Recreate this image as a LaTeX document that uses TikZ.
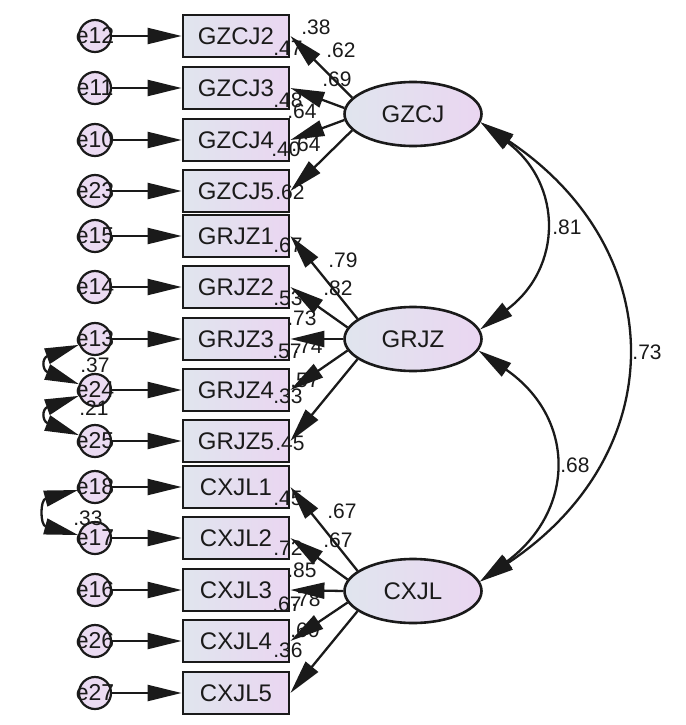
\documentclass[tikz,border=0pt]{standalone}
\usepackage{fontspec}
\setmainfont{Liberation Sans}
\usetikzlibrary{shapes.geometric,arrows.meta}
\definecolor{boxL}{HTML}{E0E5EE}
\definecolor{boxR}{HTML}{EAD6F1}
\definecolor{errC}{HTML}{EBDBF2}
\definecolor{ink}{HTML}{1A1A1A}
\begin{document}
\begin{tikzpicture}[x=1pt,y=-1pt,
  obs/.style={rectangle,draw=ink,line width=2.8pt,minimum width=106pt,minimum height=42pt,inner sep=0pt,left color=boxL,right color=boxR,font=\fontsize{24}{24}\selectfont,text=ink},
  lat/.style={ellipse,draw=ink,line width=2.6pt,minimum width=137pt,minimum height=64pt,inner sep=0pt,left color=boxL,right color=boxR,font=\fontsize{24}{24}\selectfont,text=ink},
  err/.style={circle,draw=ink,line width=2.2pt,minimum size=32pt,inner sep=0pt,fill=errC},
  etxt/.style={inner sep=0pt,font=\fontsize{23}{23}\selectfont,text=ink},
  arr/.style={draw=ink,line width=2.3pt,-{Triangle[length=34pt,width=16pt]}},
  cov/.style={draw=ink,line width=2.3pt,{Triangle[length=34pt,width=16pt]}-{Triangle[length=34pt,width=16pt]}},
  num/.style={inner sep=0pt,font=\fontsize{21}{21}\selectfont,text=ink},
]
\useasboundingbox (0,0) rectangle (685,725);
\foreach \y/\n/\e [count=\i] in {36/GZCJ2/e12, 88/GZCJ3/e11, 140/GZCJ4/e10, 191/GZCJ5/e23, 236/GRJZ1/e15, 287/GRJZ2/e14, 339/GRJZ3/e13, 390/GRJZ4/e24, 441/GRJZ5/e25, 487/CXJL1/e18, 538/CXJL2/e17, 590/CXJL3/e16, 641/CXJL4/e26, 693/CXJL5/e27}{
  \node[obs] (o\i) at (236,\y) {\n};
  \node[err] (e\i) at (95,\y) {};
  \node[etxt] (t\i) at (e\i.center) {\e};
  \draw[arr] (e\i) -- (o\i);
}
% squared multiple correlations and loadings
\node[num] (n1) at (316,27) {.38};
\node[num] (n2) at (288,48) {.47};
\node[num] (n3) at (341,50) {.62};
\node[num] (n4) at (337,79) {.69};
\node[num] (n5) at (288,100) {.48};
\node[num] (n6) at (302,111) {.64};
\node[num] (n7) at (286,149) {.40};
\node[num] (n8) at (306,144) {.64};
\node[num] (n9) at (290,192) {.62};
\node[num] (n10) at (288,245) {.67};
\node[num] (n11) at (343,260) {.79};
\node[num] (n12) at (338,288) {.82};
\node[num] (n13) at (288,298) {.53};
\node[num] (n14) at (302,318) {.73};
\node[num] (n15) at (287,351) {.57};
\node[num] (n16) at (308,346) {.74};
\node[num] (n17) at (305,380) {.57};
\node[num] (n18) at (288,396) {.33};
\node[num] (n19) at (290,443) {.45};
\node[num] (n20) at (288,498) {.45};
\node[num] (n21) at (342,511) {.67};
\node[num] (n22) at (338,540) {.67};
\node[num] (n23) at (288,548) {.72};
\node[num] (n24) at (302,570) {.85};
\node[num] (n25) at (287,604) {.67};
\node[num] (n26) at (306,599) {.78};
\node[num] (n27) at (305,630) {.60};
\node[num] (n28) at (288,650) {.36};
\node[num] (c1) at (567,227) {.81};
\node[num] (c2) at (647,352) {.73};
\node[num] (c3) at (575,465) {.68};
\node[num] (c4) at (95,365) {.37};
\node[num] (c5) at (94,408) {.21};
\node[num] (c6) at (88,518) {.33};
% latent variables
\node[lat] (gz) at (413,114) {GZCJ};
\node[lat] (gr) at (413,339) {GRJZ};
\node[lat] (cx) at (413,591) {CXJL};
% loadings
\draw[arr] (gz.165) -- (o1.east);
\draw[arr] (gz.175) -- (o2.east);
\draw[arr] (gz.185) -- (o3.east);
\draw[arr] (gz.195) -- (o4.east);
\draw[arr] (gr.160) -- (o5.east);
\draw[arr] (gr.170) -- (o6.east);
\draw[arr] (gr.180) -- (o7.east);
\draw[arr] (gr.190) -- (o8.east);
\draw[arr] (gr.200) -- (o9.east);
\draw[arr] (cx.160) -- (o10.east);
\draw[arr] (cx.170) -- (o11.east);
\draw[arr] (cx.180) -- (o12.east);
\draw[arr] (cx.190) -- (o13.east);
\draw[arr] (cx.200) -- (o14.east);
% covariances
\draw[cov] (gz.-7) .. controls (563,184) and (563,268) .. (gr.8);
\draw[cov] (gz.-7) .. controls (672,250) and (672,454) .. (cx.8);
\draw[cov] (gr.-10) .. controls (576,418) and (576,510) .. (cx.8);
\draw[cov] (e7.200) .. controls (42,358) and (42,370) .. (e8.160);
\draw[cov] (e8.200) .. controls (42,409) and (42,421) .. (e9.160);
\draw[cov] (e10.190) .. controls (40,500) and (40,525) .. (e11.170);
\end{tikzpicture}
\end{document}
